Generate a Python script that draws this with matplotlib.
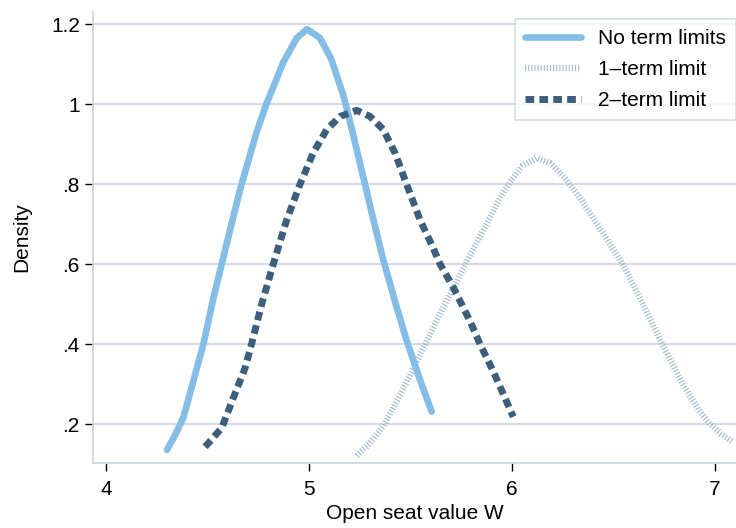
import matplotlib
matplotlib.use("Agg")
import matplotlib.pyplot as plt

plt.rcParams['font.family'] = ['Liberation Sans', 'DejaVu Sans']

# No term limits
x_none = [4.30, 4.34, 4.38, 4.405, 4.43, 4.48, 4.53, 4.57, 4.627, 4.668, 4.742, 4.79, 4.873,
          4.94, 4.99, 5.054, 5.11, 5.17, 5.20, 5.24, 5.28, 5.31, 5.366, 5.43, 5.48, 5.547, 5.604]
y_none = [0.135, 0.172, 0.215, 0.26, 0.307, 0.40, 0.517, 0.60, 0.718, 0.80, 0.93, 1.0, 1.104,
          1.165, 1.187, 1.165, 1.112, 1.02, 0.96, 0.875, 0.79, 0.725, 0.61, 0.495, 0.41, 0.31, 0.231]

# 1-term limit
x_one = [5.235, 5.30, 5.366, 5.43, 5.506, 5.563, 5.64, 5.711, 5.776, 5.875, 5.94, 5.99, 6.05,
         6.12, 6.19, 6.26, 6.335, 6.45, 6.55, 6.63, 6.73, 6.84, 6.92, 6.975, 7.03, 7.09]
y_one = [0.121, 0.152, 0.195, 0.255, 0.33, 0.39, 0.47, 0.54, 0.605, 0.70, 0.765, 0.805, 0.845,
         0.865, 0.852, 0.815, 0.765, 0.676, 0.595, 0.515, 0.41, 0.30, 0.235, 0.20, 0.175, 0.155]

# 2-term limit
x_two = [4.488, 4.57, 4.627, 4.685, 4.717, 4.767, 4.824, 4.89, 4.956, 5.02, 5.087, 5.153,
         5.235, 5.30, 5.366, 5.424, 5.48, 5.547, 5.61, 5.645, 5.711, 5.793, 5.842, 5.908, 6.006]
y_two = [0.143, 0.19, 0.265, 0.34, 0.40, 0.50, 0.60, 0.71, 0.80, 0.877, 0.936, 0.969,
         0.984, 0.969, 0.936, 0.877, 0.80, 0.71, 0.642, 0.60, 0.541, 0.457, 0.40, 0.331, 0.218]

xticks = [4, 5, 6, 7]
yticks = [0.2, 0.4, 0.6, 0.8, 1.0, 1.2]
ytick_labels = ['.2', '.4', '.6', '.8', '1', '1.2']

fig = plt.figure(figsize=(7.36, 5.28), dpi=100)
ax = fig.add_axes([93/736, 1 - 463/528, 643/736, 451/528])

c_none = '#84bde6'
c_one = '#9fb5cb'
c_two = '#3d5f7c'
grid_c = '#c9d5e2'

ax.plot(x_none, y_none, color=c_none, lw=4.8, solid_capstyle='round', solid_joinstyle='round',
        label='No term limits', zorder=3)
ax.plot(x_one, y_one, color=c_one, lw=4.5, linestyle=(0, (0.17, 0.33)), dash_capstyle='butt',
        label='1\u2013term limit', zorder=2)
ax.plot(x_two, y_two, color=c_two, lw=5, linestyle=(0, (1.25, 0.75)), dash_capstyle='butt',
        label='2\u2013term limit', zorder=4)

ax.set_xlim(3.936, 7.103)
ax.set_ylim(0.1025, 1.23)
ax.set_xticks(xticks)
ax.set_xticklabels([str(t) for t in xticks])
ax.set_yticks(yticks)
ax.set_yticklabels(ytick_labels)
ax.tick_params(axis='both', labelsize=15, length=6, width=1, color='black', direction='out')
ax.tick_params(axis='x', pad=6)
ax.grid(axis='y', color=grid_c, lw=1.2)
ax.set_axisbelow(True)
for s in ['top', 'right']:
    ax.spines[s].set_visible(False)
for s in ['left', 'bottom']:
    ax.spines[s].set_color(grid_c)
    ax.spines[s].set_linewidth(1.2)

ax.set_xlabel('Open seat value W', fontsize=15)
ax.xaxis.set_label_coords(0.5, -0.092)
ax.set_ylabel('Density', fontsize=15, labelpad=14)

leg = ax.legend(loc='upper left', bbox_to_anchor=(0.656, 0.985), fontsize=15, frameon=True,
                fancybox=False, edgecolor=grid_c, handlelength=2.7, borderaxespad=0,
                labelspacing=0.57, handletextpad=0.8, borderpad=0.5)
leg.get_frame().set_linewidth(1.2)

fig.savefig('out.png', dpi=100)
